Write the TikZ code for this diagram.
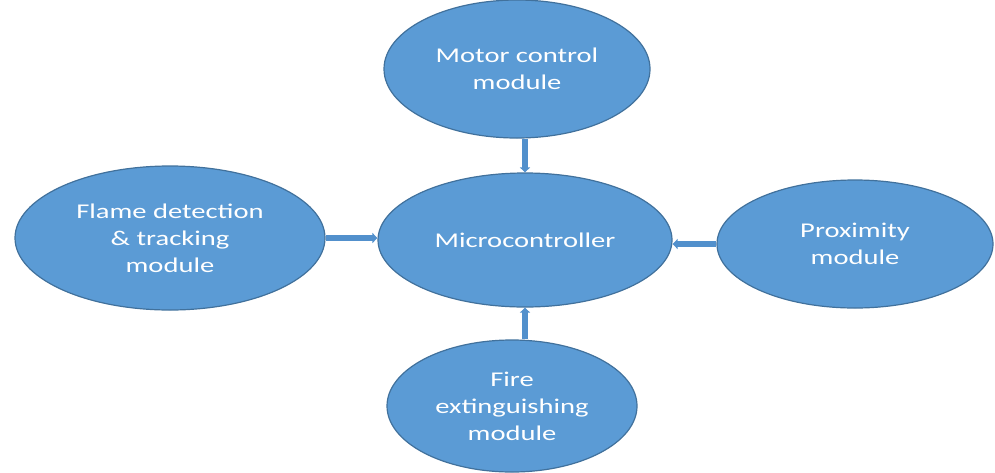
\documentclass[tikz,border=0pt]{standalone}
\usepackage{fontspec}
\newfontfamily\cfont[FakeStretch=1.36]{Carlito}
\usetikzlibrary{shapes.geometric,arrows.meta}
\definecolor{fillblue}{HTML}{5B9BD5}
\definecolor{edgeblue}{HTML}{41719C}
\definecolor{arrowblue}{HTML}{5290CC}
\begin{document}
\begin{tikzpicture}[x=1pt,y=-1pt,
  mod/.style={ellipse, draw=edgeblue, line width=1.2pt, fill=fillblue, text=white,
    font=\cfont\fontsize{21}{27}\selectfont, align=center, inner sep=0pt},
  conn/.style={line width=6pt, draw=arrowblue, -{Triangle[length=5pt,width=10pt]}}]
\useasboundingbox (0,0) rectangle (995,472);
\node[mod, minimum width=266, minimum height=138] (motor) at (517,69) {Motor control\\module};
\node[mod, minimum width=294, minimum height=134] (micro) at (525,240) {Microcontroller};
\node[mod, minimum width=310, minimum height=144] (flame) at (170,238) {Flame detection\\\& tracking\\module};
\node[mod, minimum width=276, minimum height=128] (prox) at (855,244) {Proximity\\module};
\node[mod, minimum width=250, minimum height=132] (fire) at (512,406) {Fire\\extinguishing\\module};
\draw[conn] (micro.north |- motor.south) -- (micro.north);
\draw[conn] (flame.east) -- (micro.west |- flame.east);
\draw[conn] (prox.west) -- (micro.east |- prox.west);
\draw[conn] (micro.south |- fire.north) -- (micro.south);
\end{tikzpicture}
\end{document}
